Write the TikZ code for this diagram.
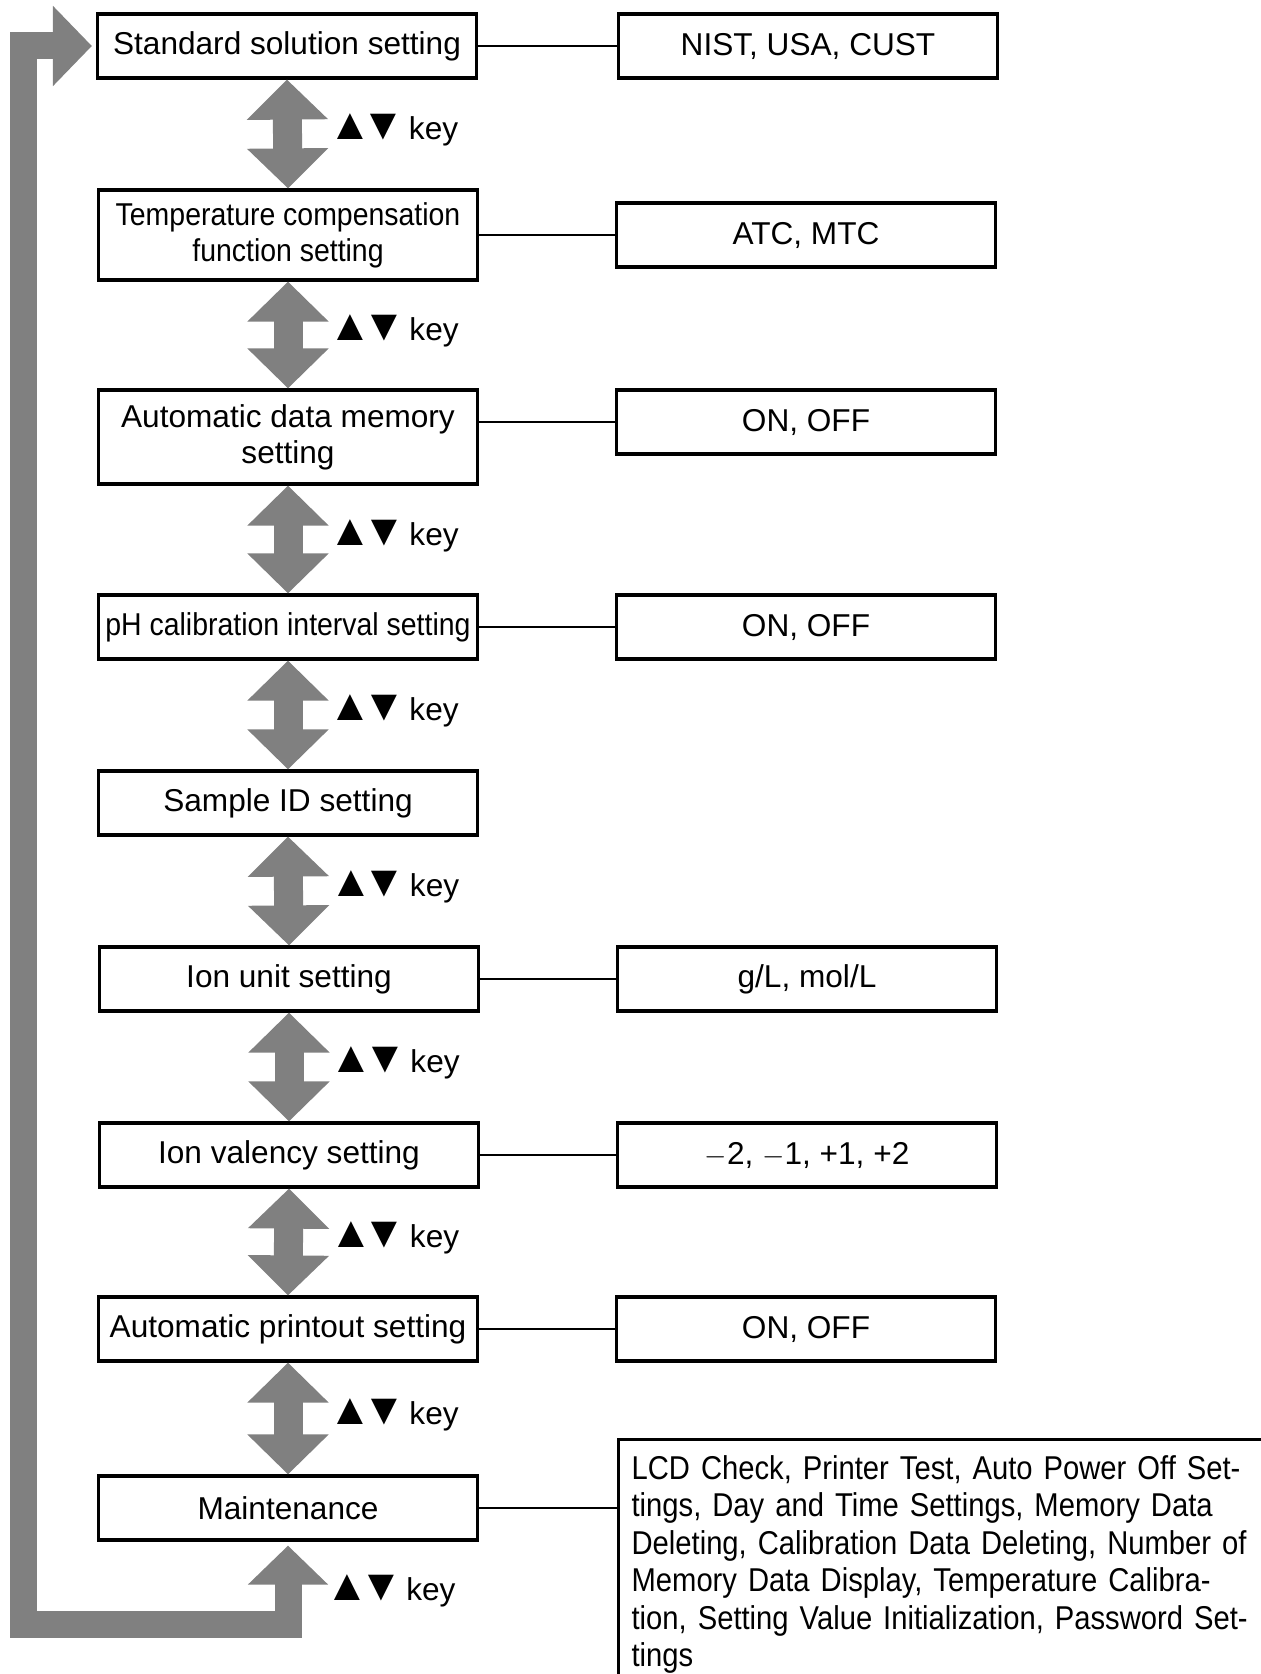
\documentclass[tikz,border=0pt]{standalone}
\usepackage{fontspec}
\setmainfont{Liberation Sans}
\newfontfamily\condfont{Liberation Sans}[FakeStretch=0.9]
\newfontfamily\listfont{Liberation Sans}[FakeStretch=0.885]
\usetikzlibrary{arrows.meta,positioning,calc}
\definecolor{arrowgray}{HTML}{808080}
\newcommand{\updnkey}{\scalebox{1.4}{▲}\hspace{-5pt}\scalebox{1.4}{▼}\hspace{1.7pt}key}

\begin{document}
\begin{tikzpicture}[x=0.5pt,y=-0.5pt,font=\fontsize{15.8}{18}\selectfont,
  menu/.style={draw,line width=1.6pt,minimum width=189.5pt,minimum height=32pt,align=center,inner sep=2pt},
  option/.style={menu},
  link/.style={line width=1.4pt},
  updown/.style={arrowgray,line width=14.5pt,{Triangle[length=20pt,width=39.5pt]}-{Triangle[length=20pt,width=39.5pt]}},
  keylbl/.style={anchor=west,inner sep=0pt,xshift=13pt,yshift=2pt,text=black}]
\useasboundingbox (0,0) rectangle (1261,1674);

% setting menu
\node[menu] (std) at (287,46) {Standard solution setting};
\node[menu,minimum height=45pt] (temp) at (288,235) {\condfont Temperature compensation\\\condfont function setting};
\node[menu,minimum height=47pt] (mem) at (288,437) {Automatic data memory\\setting};
\node[menu] (phcal) at (288,627) {\condfont pH calibration interval setting};
\node[menu] (sid) at (288,803) {Sample ID setting};
\node[menu] (ionu) at (289,979) {Ion unit setting};
\node[menu] (ionv) at (289,1155) {Ion valency setting};
\node[menu] (print) at (288,1329) {Automatic printout setting};
\node[menu] (maint) at (288,1508) {Maintenance};

% choices
\node[option] (stdopt) at (808,46) {NIST, USA, CUST};
\node[option] (tempopt) at (806,235) {ATC, MTC};
\node[option] (memopt) at (806,422) {ON, OFF};
\node[option] (phcalopt) at (806,627) {ON, OFF};
\node[option] (ionuopt) at (807,979) {g/L, mol/L};
\node[option] (ionvopt) at (807,1155) {$-$2, $-$1, +1, +2};
\node[option] (printopt) at (806,1329) {ON, OFF};
\node[draw,line width=1.6pt,anchor=north west,text width=380pt,
  inner xsep=6.5pt,inner ysep=8pt,align=left,
  font=\listfont\fontsize{16.5}{18.7}\selectfont] (maintopt) at (617,1438)
  {LCD Check, Printer Test, Auto Power Off Set-\\
   tings, Day and Time Settings, Memory Data\\
   Deleting, Calibration Data Deleting, Number of\\
   Memory Data Display, Temperature Calibra-\\
   tion, Setting Value Initialization, Password Set-\\
   tings};

\draw[link] (std.east) -- (stdopt.west);
\draw[link] (temp.east |- tempopt.west) -- (tempopt.west);
\draw[link] (mem.east |- memopt.west) -- (memopt.west);
\draw[link] (phcal.east) -- (phcalopt.west);
\draw[link] (ionu.east) -- (ionuopt.west);
\draw[link] (ionv.east) -- (ionvopt.west);
\draw[link] (print.east) -- (printopt.west);
\draw[link] (maint.east) -- (maint.east -| maintopt.west);

% key arrows
\draw[updown] (std.south) -- (temp.north) node[midway,keylbl] {\updnkey};
\draw[updown] (temp.south) -- (mem.north) node[midway,keylbl] {\updnkey};
\draw[updown] (mem.south) -- (phcal.north) node[midway,keylbl] {\updnkey};
\draw[updown] (phcal.south) -- (sid.north) node[midway,keylbl] {\updnkey};
\draw[updown] (sid.south) -- (ionu.north) node[midway,keylbl] {\updnkey};
\draw[updown] (ionu.south) -- (ionv.north) node[midway,keylbl] {\updnkey};
\draw[updown] (ionv.south) -- (print.north) node[midway,keylbl] {\updnkey};
\draw[updown] (print.south) -- (maint.north) node[midway,keylbl] {\updnkey};

% loop back to the top
\coordinate (loopbot) at (23.5,1624);
\draw[arrowgray,line width=13.5pt,shorten <=2pt,shorten >=2pt,
  {Triangle[length=19.5pt,width=39pt]}-{Triangle[length=19.5pt,width=39pt]}]
  (maint.south) |- (loopbot) |- (std.west);
\node[anchor=west,inner sep=0pt] (lastkey) at (325,1591) {\updnkey};
\end{tikzpicture}
\end{document}
